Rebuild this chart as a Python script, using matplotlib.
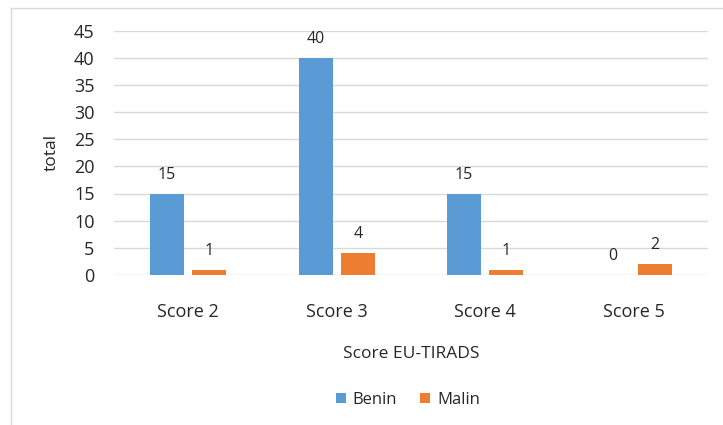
import matplotlib
matplotlib.use("Agg")
import matplotlib.pyplot as plt
from matplotlib.lines import Line2D
import numpy as np

categories = ["Score 2", "Score 3", "Score 4", "Score 5"]
benin = [15, 40, 15, 0]
malin = [1, 4, 1, 2]
series_names = ["Benin", "Malin"]
colors = ["#5B9BD5", "#ED7D31"]

plt.rcParams['font.family'] = ['Open Sans', 'DejaVu Sans']

W, H = 723, 425
fig = plt.figure(figsize=(W/100, H/100), dpi=100)
ax = fig.add_axes([114/W, (H-275)/H, (708-114)/W, (275-30.5)/H])

x = np.arange(len(categories))
bw = 0.23
off = 0.142
b1 = ax.bar(x - off, benin, bw, color=colors[0], label=series_names[0], zorder=3)
b2 = ax.bar(x + off, malin, bw, color=colors[1], label=series_names[1], zorder=3)
for bars in (b1, b2):
    for r in bars:
        v = r.get_height()
        ax.text(r.get_x() + r.get_width()/2, v + 2.0, f"{int(v)}", ha='center', va='bottom',
                fontsize=11.5, color='#262626')

ax.set_xlim(-0.5, len(categories) - 0.5)
ax.set_ylim(0, 45)
ax.set_yticks(range(0, 46, 5))
ax.set_xticks(x)
ax.set_xticklabels(categories)
ax.tick_params(axis='both', length=0, labelsize=13, colors='#262626')
ax.tick_params(axis='x', pad=20)
ax.tick_params(axis='y', pad=14)
ax.grid(axis='y', color='#D9D9D9', linewidth=1, zorder=0)
for s in ax.spines.values():
    s.set_visible(False)
ax.set_ylabel("total", fontsize=12.5, color='#262626', labelpad=10)
ax.set_xlabel("Score EU-TIRADS", fontsize=12.5, color='#262626', labelpad=18)

leg = fig.legend(handles=[b1, b2], labels=series_names, loc='center', bbox_to_anchor=(408/W, (H-400)/H),
                 ncol=2, frameon=False, fontsize=12, handlelength=0.6, handleheight=0.6,
                 handletextpad=0.4, columnspacing=1.4)
for t in leg.get_texts():
    t.set_color('#262626')

fig.add_artist(Line2D([11/W, 11/W], [0, (H-8)/H], transform=fig.transFigure, color='#D9D9D9', lw=1))
fig.add_artist(Line2D([11/W, 1], [(H-8)/H, (H-8)/H], transform=fig.transFigure, color='#D9D9D9', lw=1))

fig.savefig("out.png", dpi=100)
